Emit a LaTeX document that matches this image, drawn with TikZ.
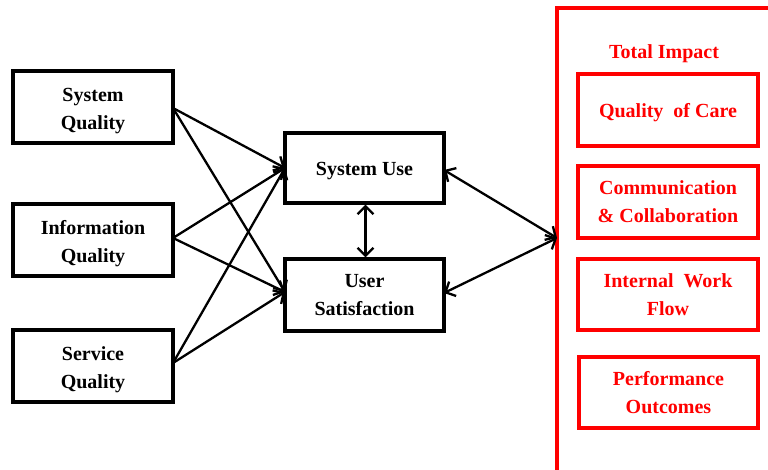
\documentclass[tikz,border=0pt]{standalone}
\usepackage{fontspec}
\setmainfont{Liberation Serif}
\usetikzlibrary{arrows.meta}
\begin{document}
\begin{tikzpicture}[x=1pt,y=-1pt,
  lbl/.style={align=center,inner sep=0pt,font=\fontsize{20}{28}\selectfont\bfseries},
  box/.style={lbl,draw=black,line width=3.2pt,minimum width=160pt,minimum height=72pt,
    execute at begin node={\rule{0pt}{20pt}}},
  frame/.style={draw=black,line width=3.2pt,minimum width=160pt,minimum height=72pt,inner sep=0pt},
  redbox/.style={box,draw=red,text=red,minimum width=180pt},
  conn/.style={line width=2.3pt,-{Straight Barb[length=8pt,width=16pt,line width=2.3pt]}},
  bconn/.style={line width=2.3pt,{Straight Barb[length=8pt,width=16pt,line width=2.3pt]}-{Straight Barb[length=8pt,width=16pt,line width=2.3pt]}}]
\useasboundingbox (0,0) rectangle (768,470);

% inputs: frames with their captions set a little below centre
\node[frame] (sq) at (93,107) {};
\node[lbl] (sqt) at (93,111) {System\\Quality};
\node[frame] (iq) at (93,240) {};
\node[lbl] (iqt) at (93,243.5) {Information\\Quality};
\node[frame] (svq) at (93,366) {};
\node[lbl] (svqt) at (93,370) {Service\\Quality};

% intermediate constructs
\node[box,minimum width=159pt,minimum height=70pt] (use) at (364.5,168) {System Use};
\node[box,minimum width=159pt] (sat) at (364.5,295) {User\\Satisfaction};

% total impact container (runs past the picture edges)
\draw[red,line width=3.2pt] (557,480) -- (557,8) -- (780,8);
\coordinate (impact) at (557,238);
\node[lbl,text=red] (ti) at (664,54) {Total Impact};

\node[redbox] (qc) at (668,110) {Quality~~of Care};
\node[redbox] (cc) at (668,202) {Communication\\\& Collaboration};
\node[redbox,minimum height=71pt] (iw) at (668,294.5) {Internal~~Work\\Flow};
\node[redbox,minimum width=179pt,minimum height=71pt] (po) at (668.5,392.5) {Performance\\Outcomes};

% paths into the intermediate constructs
\coordinate (sqo) at (173,108);
\coordinate (iqo) at (173,238);
\coordinate (svo) at (173,363);
\coordinate (usein) at (285,168);
\coordinate (satin) at (285,292);
\draw[conn] (sqo) -- (usein);
\draw[conn] (sqo) -- (satin);
\draw[conn] (iqo) -- (usein);
\draw[conn] (iqo) -- (satin);
\draw[conn] (svo) -- (usein);
\draw[conn] (svo) -- (satin);

\draw[bconn] (use.south) ++(1,0) coordinate (us) (us) -- (us |- sat.north);
\coordinate (useout) at (444,170);
\coordinate (satout) at (444,293);
\draw[bconn] (useout) -- (impact);
\draw[bconn] (satout) -- (impact);
\end{tikzpicture}
\end{document}
